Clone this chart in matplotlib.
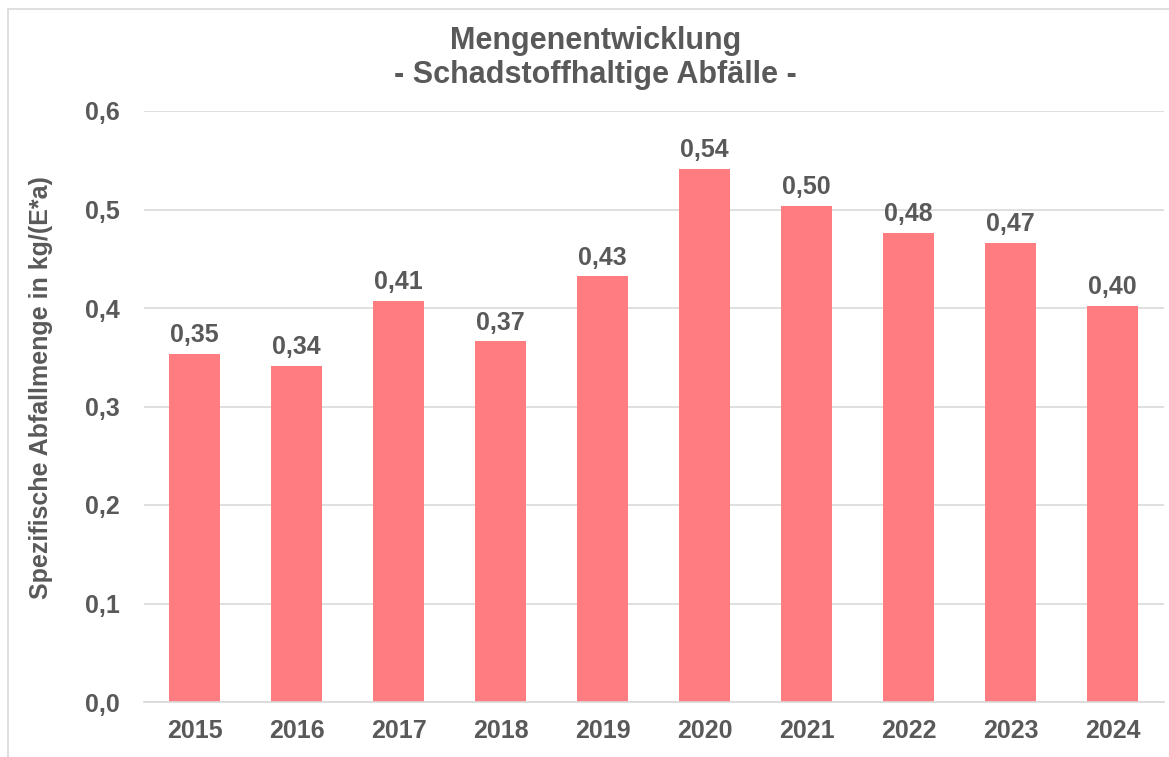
import matplotlib.pyplot as plt
from matplotlib.patches import Rectangle

years = ["2015", "2016", "2017", "2018", "2019", "2020", "2021", "2022", "2023", "2024"]
values = [0.353, 0.341, 0.407, 0.366, 0.432, 0.541, 0.504, 0.476, 0.466, 0.402]
yticks = [0.0, 0.1, 0.2, 0.3, 0.4, 0.5, 0.6]

text_color = "#595959"
bar_color = "#FF7C80"

plt.rcParams["font.family"] = ["Liberation Sans", "DejaVu Sans"]
plt.rcParams["font.weight"] = "bold"

fig = plt.figure(figsize=(11.69, 7.57), dpi=100)
W, H = 1169, 757
ax = fig.add_axes([143.5 / W, 1 - 702 / H, 1020 / W, (702 - 111) / H])

x = range(len(years))
bars = ax.bar(x, values, width=0.5, color=bar_color, zorder=2)

for xi, v in zip(x, values):
    ax.text(xi, v + 0.007, f"{v:.2f}".replace(".", ","), ha="center", va="bottom",
            fontsize=18, fontweight="bold", color=text_color)

ax.set_xlim(-0.5, len(years) - 0.5)
ax.set_ylim(0, 0.6)
ax.set_yticks(yticks)
ax.set_yticklabels([f"{t:.1f}".replace(".", ",") for t in yticks])
ax.set_xticks(list(x))
ax.set_xticklabels(years)
ax.tick_params(axis="both", length=0, labelsize=18, labelcolor=text_color)
ax.tick_params(axis="x", pad=12)
ax.tick_params(axis="y", pad=17)
for lab in ax.get_xticklabels() + ax.get_yticklabels():
    lab.set_fontweight("bold")

ax.grid(axis="y", color="#D9D9D9", linewidth=1.2, zorder=0)
for side in ["top", "right", "left"]:
    ax.spines[side].set_visible(False)
ax.spines["bottom"].set_color("#D9D9D9")
ax.spines["bottom"].set_linewidth(1.2)

fig.text(41 / W, 1 - 388 / H, "Spezifische Abfallmenge in kg/(E*a)", rotation=90,
         ha="center", va="center", fontsize=18, fontweight="bold", color=text_color)

fig.text(596 / W, 1 - 41 / H, "Mengenentwicklung", ha="center", va="center",
         fontsize=22, fontweight="bold", color=text_color)
fig.text(595 / W, 1 - 75 / H, "- Schadstoffhaltige Abfälle -", ha="center", va="center",
         fontsize=22, fontweight="bold", color=text_color)

fig.patches.append(Rectangle((8 / W, -0.05), 1.2, 1 - 9 / H + 0.05, transform=fig.transFigure,
                             fill=False, edgecolor="#D9D9D9", linewidth=1.2))

fig.savefig("out.png", dpi=100)
